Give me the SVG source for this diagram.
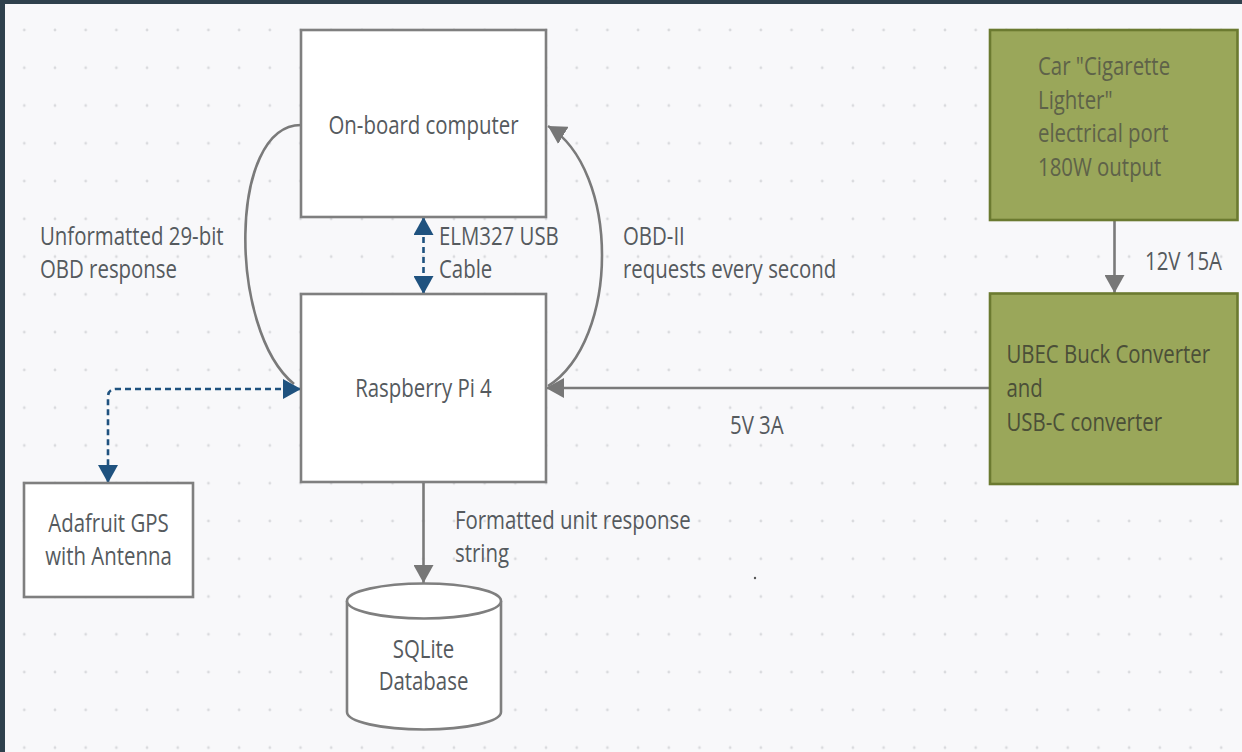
<svg xmlns="http://www.w3.org/2000/svg" width="1242" height="752" viewBox="0 0 1242 752">
<style>
.t{font-family:"Open Sans","Liberation Sans",sans-serif;font-size:20.4px;fill:#555a5e}
.box{fill:#ffffff;stroke:#7f7f7f;stroke-width:2.6}
.green{fill:#9aa75a;stroke:#6b7a30;stroke-width:2.6}
.gl{fill:none;stroke:#7a7a7a;stroke-width:2.6}
.bl{fill:none;stroke:#1f527f;stroke-width:2.6;stroke-dasharray:6 4}
</style>
<defs>
<pattern id="dots" x="24.3" y="30" width="30.69" height="37.77" patternUnits="userSpaceOnUse">
<circle cx="0" cy="0" r="1.4" fill="#d9dadd"/>
<circle cx="30.69" cy="0" r="1.4" fill="#d9dadd"/>
<circle cx="0" cy="37.77" r="1.4" fill="#d9dadd"/>
<circle cx="30.69" cy="37.77" r="1.4" fill="#d9dadd"/>
</pattern>
<marker id="ag" viewBox="0 0 18 20" markerWidth="18" markerHeight="20" refX="18" refY="10" orient="auto-start-reverse" markerUnits="userSpaceOnUse">
<path d="M0 0 L18 10 L0 20 z" fill="#777777"/>
</marker>
<marker id="ab" viewBox="0 0 18 20" markerWidth="18" markerHeight="20" refX="18" refY="10" orient="auto-start-reverse" markerUnits="userSpaceOnUse">
<path d="M0 0 L18 10 L0 20 z" fill="#1f527f"/>
</marker>
</defs>
<rect x="0" y="0" width="1242" height="752" fill="#2f414d"/>
<rect x="5" y="4" width="1237" height="748" fill="#f8f8fa"/>
<rect x="5" y="4" width="1237" height="748" fill="url(#dots)"/>
<circle cx="755" cy="578" r="1.2" fill="#555"/>

<g id="connectors">
<path class="gl" d="M301 125 C228 125 228 330 294 384"/>
<path class="gl" d="M548 386 C620 340 620 170 548 126" marker-end="url(#ag)"/>
<path class="gl" d="M990 388 H546" marker-end="url(#ag)"/>
<path class="gl" d="M1114.5 220 V293" marker-end="url(#ag)"/>
<path class="gl" d="M423.5 482 V583" marker-end="url(#ag)"/>
<path class="bl" d="M423.5 217 V294" marker-start="url(#ab)" marker-end="url(#ab)"/>
<path class="bl" d="M301 389 H116 Q108 389 108 397 V483" marker-start="url(#ab)" marker-end="url(#ab)"/>
<g id="edge-labels">
<text class="t" transform="translate(40 245) scale(1 1.25)">Unformatted 29-bit<tspan x="0" dy="26.6">OBD response</tspan></text>
<text class="t" transform="translate(439 245) scale(1 1.25)">ELM327 USB<tspan x="0" dy="26.6">Cable</tspan></text>
<text class="t" transform="translate(623 245) scale(1 1.25)">OBD-II<tspan x="0" dy="26.6">requests every second</tspan></text>
<text class="t" transform="translate(730 434) scale(1 1.25)">5V 3A</text>
<text class="t" transform="translate(1145 270) scale(1 1.25)">12V 15A</text>
<text class="t" transform="translate(455 529) scale(1 1.25)">Formatted unit response<tspan x="0" dy="26.2">string</tspan></text>
</g>
</g>

<g id="onboard">
<rect class="box" x="301" y="30" width="245" height="187"/>
<text class="t" text-anchor="middle" transform="translate(423.5 134) scale(1 1.25)" fill="#5f6366">On-board computer</text>
</g>
<g id="pi">
<rect class="box" x="301" y="294" width="245" height="188"/>
<text class="t" text-anchor="middle" transform="translate(423.5 397) scale(1 1.25)">Raspberry Pi 4</text>
</g>
<g id="gps">
<rect class="box" x="24" y="483" width="169" height="114"/>
<text class="t" text-anchor="middle" transform="translate(108.5 532) scale(1 1.25)">Adafruit GPS<tspan x="0" dy="26.2">with Antenna</tspan></text>
</g>
<g id="sqlite">
<path class="box" d="M347 601 V712 A77 17.5 0 0 0 501 712 V601"/>
<ellipse class="box" cx="424" cy="601" rx="77" ry="17.5"/>
<text class="t" text-anchor="middle" transform="translate(423.5 658) scale(1 1.25)">SQLite<tspan x="0" dy="25.6">Database</tspan></text>
</g>
<g id="lighter">
<rect class="green" x="990" y="30" width="247.5" height="190"/>
<text class="t" style="fill:#5e6249" transform="translate(1038 75) scale(1 1.25)">Car "Cigarette<tspan x="0" dy="26.9">Lighter"</tspan><tspan x="0" dy="26.9">electrical port</tspan><tspan x="0" dy="26.9">180W output</tspan></text>
</g>
<g id="ubec">
<rect class="green" x="990" y="293.5" width="247.5" height="190.5"/>
<text class="t" style="fill:#4b4f38" transform="translate(1006.5 363) scale(1 1.25)">UBEC Buck Converter<tspan x="0" dy="27.4">and</tspan><tspan x="0" dy="27.4">USB-C converter</tspan></text>
</g>
</svg>
